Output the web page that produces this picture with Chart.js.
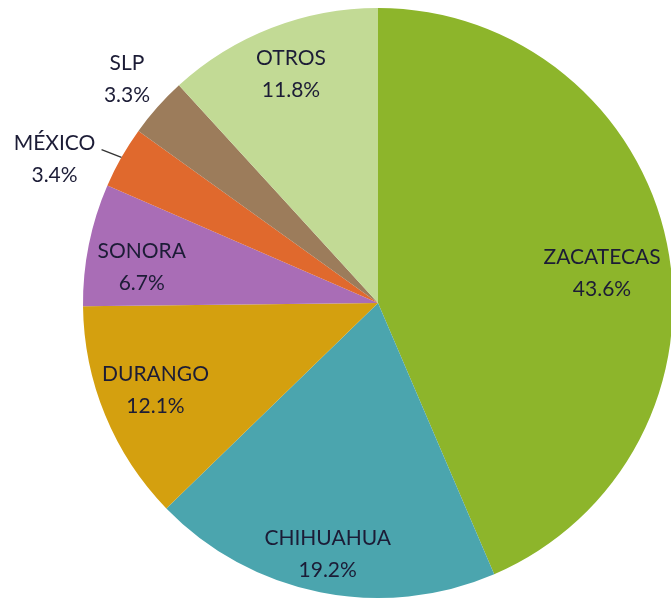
<!DOCTYPE html>
<html>
<head>
<meta charset="utf-8">
<script src="https://cdn.jsdelivr.net/npm/chart.js@4"></script>
<style>
html,body{margin:0;padding:0;background:#fff;overflow:hidden;}
#wrap{position:relative;width:690px;height:599px;}
</style>
</head>
<body>
<div id="wrap"><canvas id="c"></canvas></div>
<script>
const categories = ["ZACATECAS","CHIHUAHUA","DURANGO","SONORA","MÉXICO","SLP","OTROS"];
const shares = [43.6, 19.2, 12.1, 6.7, 3.4, 3.3, 11.8];
const percentLabels = ["43.6%","19.2%","12.1%","6.7%","3.4%","3.3%","11.8%"];
const sliceColors = ["#8db52b","#4ba5ae","#d4a00f","#a96db6","#e0692d","#9c7c5b","#c2da95"];

// label placement: radial fraction of radius, angular shift (deg), leader line flag
const labelRadius = [0.766, 0.868, 0.81, 0.81, 1.20, 1.14, 0.83];
const labelShift  = [4.1, 0, 1.0, -2.8, -5.6, 0.1, 0.4];
const leader      = [false,false,false,false,true,false,false];

const labelPlugin = {
  id: 'pieLabels',
  afterDatasetsDraw(chart) {
    const ctx = chart.ctx;
    const meta = chart.getDatasetMeta(0);
    ctx.save();
    ctx.font = '21px Lato';
    ctx.fillStyle = '#1c1c36';
    ctx.textAlign = 'center';
    ctx.textBaseline = 'middle';
    meta.data.forEach((arc, i) => {
      const cx = arc.x, cy = arc.y, r = arc.outerRadius;
      const mid = (arc.startAngle + arc.endAngle) / 2;
      const a = mid + labelShift[i] * Math.PI / 180;
      const lx = cx + Math.cos(a) * r * labelRadius[i];
      const ly = cy + Math.sin(a) * r * labelRadius[i];
      ctx.fillText(categories[i], lx, ly - 16);
      ctx.fillText(percentLabels[i], lx, ly + 16);
      if (leader[i]) {
        const ex = cx + Math.cos(mid) * r, ey = cy + Math.sin(mid) * r;
        ctx.beginPath();
        ctx.strokeStyle = '#333';
        ctx.lineWidth = 1.2;
        ctx.moveTo(lx + 47, ly - 9.5);
        ctx.lineTo(ex, ey);
        ctx.stroke();
      }
    });
    ctx.restore();
  }
};

new Chart(document.getElementById('c'), {
  type: 'pie',
  data: {
    labels: categories,
    datasets: [{
      data: shares,
      backgroundColor: sliceColors,
      borderWidth: 0
    }]
  },
  options: {
    responsive: true,
    maintainAspectRatio: false,
    devicePixelRatio: 1,
    animation: false,
    layout: { padding: { left: 83, right: 17, top: 8, bottom: 1 } },
    plugins: { legend: { display: false }, tooltip: { enabled: false } }
  },
  plugins: [labelPlugin]
});
</script>
</body>
</html>
